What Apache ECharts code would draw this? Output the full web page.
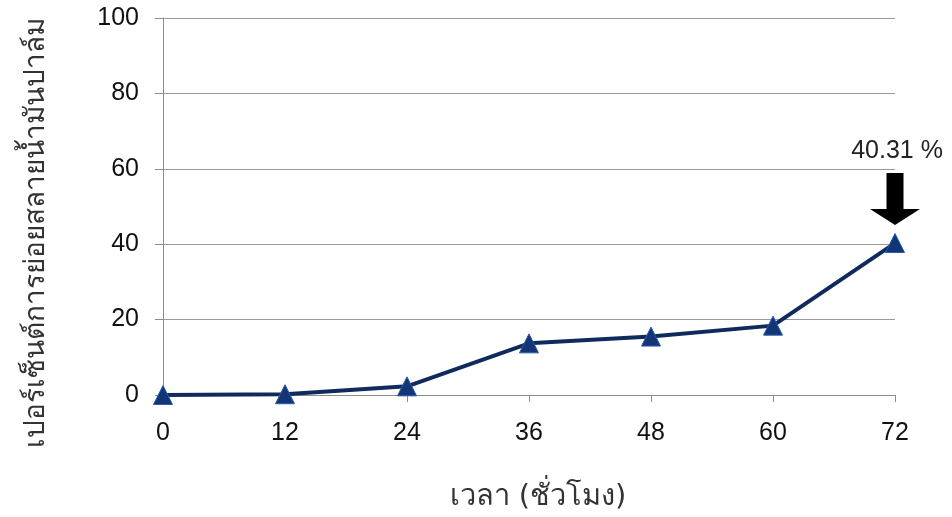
<!DOCTYPE html>
<html>
<head>
<meta charset="utf-8">
<script src="https://cdn.jsdelivr.net/npm/echarts@6/dist/echarts.min.js"></script>
<style>
  html, body { margin: 0; padding: 0; background: #fff; }
  #chart { width: 952px; height: 517px; }
</style>
</head>
<body>
<div id="chart"></div>
<script>
// Palm oil degradation over time
const hours = ['0', '12', '24', '36', '48', '60', '72'];
const degradation = [0, 0.2, 2.3, 13.7, 15.5, 18.4, 40.31];
const yTicks = [0, 20, 40, 60, 80, 100];
const xTitle = 'เวลา (ชั่วโมง)';
const yTitle = 'เปอร์เซ็นต์การย่อยสลายน้ำมันปาล์ม';
const finalLabel = '40.31 %';

const chart = echarts.init(document.getElementById('chart'));
const lastIdx = degradation.length - 1;

chart.setOption({
  animation: false,
  grid: { left: 163, right: 57, top: 18, bottom: 122 },
  xAxis: {
    type: 'category',
    data: hours,
    boundaryGap: false,
    name: xTitle,
    nameLocation: 'middle',
    nameGap: 88,
    nameTextStyle: { fontFamily: 'DejaVu Sans', fontSize: 29, color: '#333', padding: [0, 0, 0, 18] },
    axisLine: { lineStyle: { color: '#8c8c8c', width: 1 } },
    axisTick: { show: true, alignWithLabel: true, length: 7, lineStyle: { color: '#8c8c8c' } },
    axisLabel: { fontFamily: 'Liberation Sans', fontSize: 25, color: '#111', margin: 26 },
    splitLine: { show: false }
  },
  yAxis: {
    type: 'value',
    min: yTicks[0],
    max: yTicks[yTicks.length - 1],
    interval: yTicks[1] - yTicks[0],
    name: yTitle,
    nameLocation: 'middle',
    nameGap: 112,
    nameRotate: 90,
    nameTextStyle: { fontFamily: 'DejaVu Sans', fontSize: 28, color: '#333', padding: [0, 53, 0, 0] },
    axisLine: { show: true, lineStyle: { color: '#8c8c8c', width: 1 } },
    axisTick: { show: true, length: 8, lineStyle: { color: '#8c8c8c' } },
    axisLabel: { fontFamily: 'Liberation Sans', fontSize: 25, color: '#111', margin: 24 },
    splitLine: { lineStyle: { color: '#9a9a9a', width: 1 } }
  },
  series: [{
    type: 'line',
    data: degradation,
    symbol: 'triangle',
    symbolSize: 19,
    lineStyle: { color: '#0f2a5c', width: 4 },
    itemStyle: { color: '#123575', borderColor: '#2a5aa8', borderWidth: 1 },
    markPoint: {
      symbol: 'path://M16.5,0 L33.5,0 L33.5,36 L50,36 L25,52 L0,36 L16.5,36 Z',
      symbolSize: [50, 52],
      symbolOffset: [0, -44],
      itemStyle: { color: '#000' },
      label: {
        show: true,
        position: 'top',
        distance: 9,
        formatter: finalLabel,
        fontFamily: 'Liberation Sans',
        fontSize: 25,
        color: '#222',
        padding: [0, 0, 0, 4]
      },
      data: [{ coord: [lastIdx, degradation[lastIdx]] }]
    }
  }]
});
</script>
</body>
</html>
